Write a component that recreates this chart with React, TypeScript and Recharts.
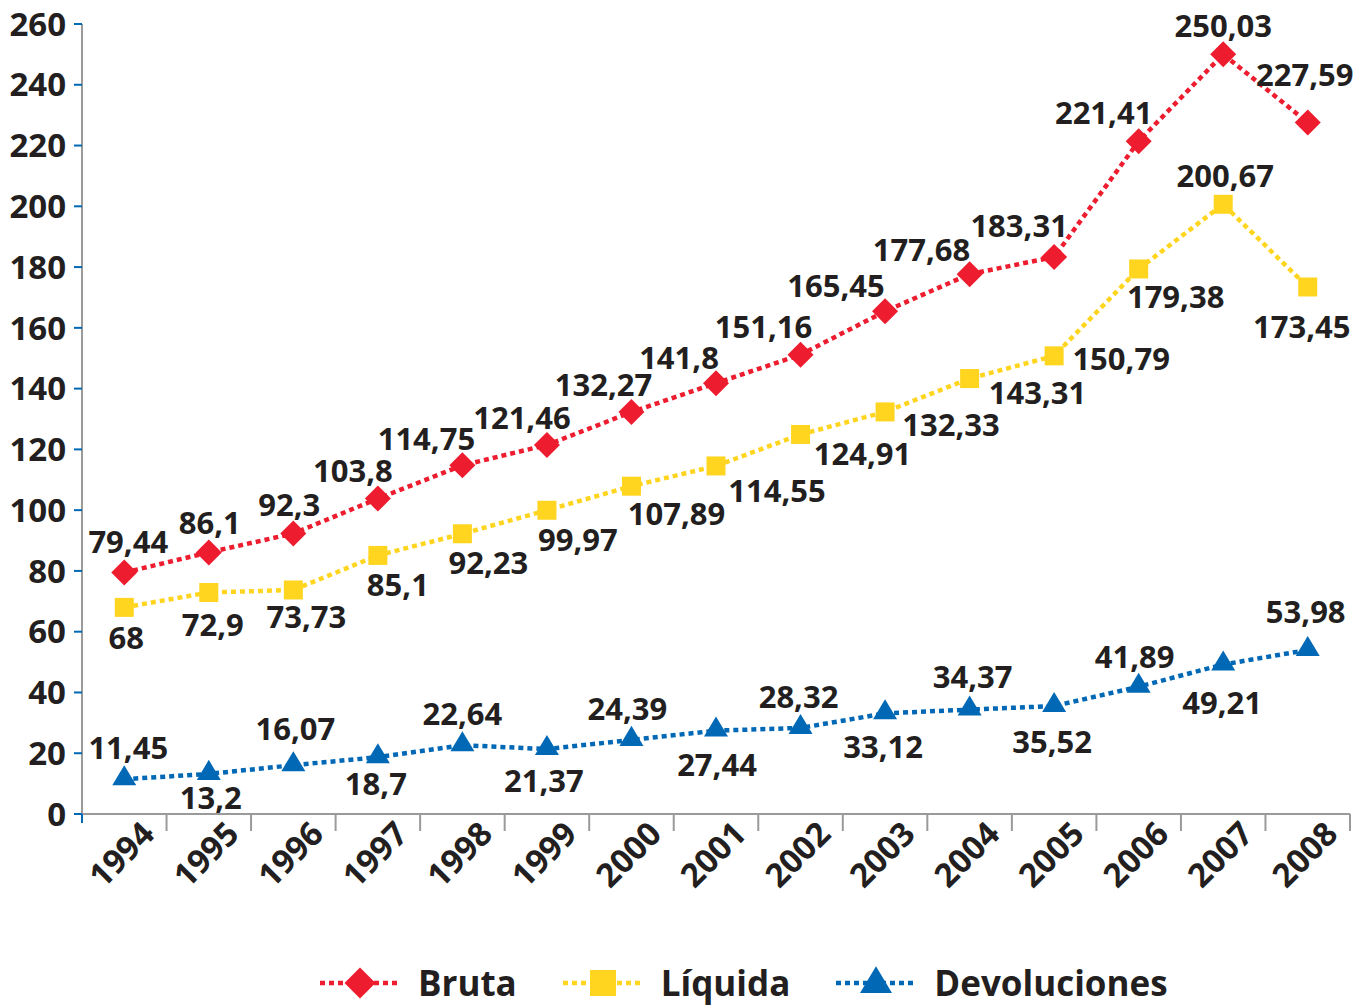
import React from "react";
import {
  LineChart,
  Line,
  XAxis,
  YAxis,
  Legend,
  LabelList,
} from "recharts";

const years = [
  "1994", "1995", "1996", "1997", "1998", "1999", "2000", "2001",
  "2002", "2003", "2004", "2005", "2006", "2007", "2008",
];
const bruta = [
  79.44, 86.1, 92.3, 103.8, 114.75, 121.46, 132.27, 141.8, 151.16, 165.45,
  177.68, 183.31, 221.41, 250.03, 227.59,
];
const liquida = [
  68, 72.9, 73.73, 85.1, 92.23, 99.97, 107.89, 114.55, 124.91, 132.33,
  143.31, 150.79, 179.38, 200.67, 173.45,
];
const devoluciones = [
  11.45, 13.2, 16.07, 18.7, 22.64, 21.37, 24.39, 27.44, 28.32, 33.12, 34.37,
  35.52, 41.89, 49.21, 53.98,
];
const yTicks = [0, 20, 40, 60, 80, 100, 120, 140, 160, 180, 200, 220, 240, 260];

// label placement (dx, dy) relative to each point
const brutaLabelPos = [
  [4, -32], [1, -30], [-4, -30], [-25, -29], [-36, -27], [-25, -28], [-28, -28],
  [-37, -26], [-37, -29], [-49, -26], [-48, -25], [-35, -32], [-35, -29],
  [0, -29], [-3, -48],
];
const liquidaLabelPos = [
  [2, 30], [4, 32], [13, 26], [20, 29], [26, 28], [31, 29], [45, 27], [61, 24],
  [62, 19], [66, 12], [68, 13], [67, 2], [37, 27], [2, -29], [-6, 39],
];
const devolucionesLabelPos = [
  [4, -32], [2, 23], [2, -37], [-2, 26], [0, -32], [-3, 31], [-4, -32],
  [1, 33], [-2, -32], [-2, 33], [3, -34], [-2, 35], [-4, -31], [-1, 38],
  [-2, -39],
];

const RED = "#ED1C2E";
const YELLOW = "#FFD520";
const BLUE = "#0068B5";
const INK = "#231F20";
const FONT = "'Open Sans', 'Noto Sans', sans-serif";

const data = years.map((year, i) => ({
  idx: i,
  year,
  bruta: bruta[i],
  liquida: liquida[i],
  devoluciones: devoluciones[i],
}));

const xTicks = Array.from({ length: years.length * 2 + 1 }, (_, i) => i / 2 - 0.5);

const fmt = (v: number) => String(v).replace(".", ",");

const Diamond = ({ cx, cy, r = 13 }: any) => (
  <path
    d={`M${cx},${cy - r} L${cx + r},${cy} L${cx},${cy + r} L${cx - r},${cy} Z`}
    fill={RED}
  />
);
const Square = ({ cx, cy, r = 9.5 }: any) => (
  <rect x={cx - r} y={cy - r} width={2 * r} height={2 * r} fill={YELLOW} />
);
const Triangle = ({ cx, cy, r = 12 }: any) => (
  <path
    d={`M${cx},${cy - r * 1.17} L${cx + r},${cy + r * 0.5} L${cx - r},${cy + r * 0.5} Z`}
    fill={BLUE}
  />
);

const makeLabel = (pos: number[][]) => (props: any) => {
  const { x, y, value, index } = props;
  const [dx, dy] = pos[index] || [0, -30];
  return (
    <text
      x={x + dx}
      y={y + dy}
      textAnchor="middle"
      dominantBaseline="central"
      fill={INK}
      fontSize={31}
      fontWeight={700}
      fontFamily={FONT}
    >
      {fmt(value)}
    </text>
  );
};

const XTick = (props: any) => {
  const { x, y, payload } = props;
  const v = payload.value;
  if (Number.isInteger(v)) {
    return (
      <text
        x={x + 32}
        y={y + 22}
        textAnchor="end"
        transform={`rotate(-45, ${x + 32}, ${y + 22})`}
        fill={INK}
        fontSize={33}
        fontWeight={700}
        fontFamily={FONT}
      >
        {years[v]}
      </text>
    );
  }
  if (v === -0.5) {
    return <line x1={x} y1={y} x2={x} y2={y + 9} stroke={BLUE} strokeWidth={2} />;
  }
  return <line x1={x} y1={y} x2={x} y2={y + 17} stroke="#9a9a9a" strokeWidth={2} />;
};

const legendItems = [
  { name: "Bruta", color: RED, marker: <Diamond cx={40} cy={22} r={15.5} /> },
  { name: "Líquida", color: YELLOW, marker: <Square cx={40} cy={22} r={13} /> },
  { name: "Devoluciones", color: BLUE, marker: <Triangle cx={40} cy={24} r={16} /> },
];

const LegendContent = () => (
  <div
    style={{
      display: "flex",
      alignItems: "flex-end",
      paddingLeft: 320,
      paddingBottom: 2,
      height: 60,
      boxSizing: "border-box",
      fontFamily: FONT,
    }}
  >
    {legendItems.map((it) => (
      <div key={it.name} style={{ display: "flex", alignItems: "center", marginRight: 46 }}>
        <svg width={80} height={44} style={{ display: "block" }}>
          <line
            x1={0}
            y1={22}
            x2={80}
            y2={22}
            stroke={it.color}
            strokeWidth={4.5}
            strokeDasharray="5 4"
          />
          {it.marker}
        </svg>
        <span
          style={{
            marginLeft: 18,
            fontSize: 35,
            fontWeight: 700,
            color: INK,
            lineHeight: "44px",
          }}
        >
          {it.name}
        </span>
      </div>
    ))}
  </div>
);

const App = () => {
  return (
    <div style={{ position: "absolute", left: 0, top: 0, background: "#fff" }}>
      <LineChart
        width={1365}
        height={1007}
        data={data}
        margin={{ top: 24, right: 15, left: 0, bottom: 0 }}
      >
        <XAxis
          dataKey="idx"
          type="number"
          domain={[-0.5, years.length - 0.5]}
          ticks={xTicks}
          interval={0}
          tick={<XTick />}
          tickLine={false}
          tickSize={0}
          tickMargin={0}
          height={133}
          axisLine={{ stroke: "#9a9a9a", strokeWidth: 2 }}
        />
        <YAxis
          domain={[0, 260]}
          ticks={yTicks}
          interval={0}
          width={82}
          tickSize={8}
          tickMargin={8}
          tick={{ fill: INK, fontSize: 33, fontWeight: 700, fontFamily: FONT }}
          tickLine={{ stroke: BLUE, strokeWidth: 2 }}
          axisLine={{ stroke: "#9a9a9a", strokeWidth: 2 }}
        />
        <Legend verticalAlign="bottom" content={() => <LegendContent />} />
        <Line
          type="linear"
          dataKey="bruta"
          name="Bruta"
          stroke={RED}
          strokeWidth={4.5}
          strokeDasharray="5 4"
          dot={(p: any) => <Diamond key={`b${p.index}`} cx={p.cx} cy={p.cy} />}
          activeDot={false}
          isAnimationActive={false}
        >
          <LabelList dataKey="bruta" content={makeLabel(brutaLabelPos)} />
        </Line>
        <Line
          type="linear"
          dataKey="liquida"
          name="Líquida"
          stroke={YELLOW}
          strokeWidth={4.5}
          strokeDasharray="5 4"
          dot={(p: any) => <Square key={`l${p.index}`} cx={p.cx} cy={p.cy} />}
          activeDot={false}
          isAnimationActive={false}
        >
          <LabelList dataKey="liquida" content={makeLabel(liquidaLabelPos)} />
        </Line>
        <Line
          type="linear"
          dataKey="devoluciones"
          name="Devoluciones"
          stroke={BLUE}
          strokeWidth={4.5}
          strokeDasharray="5 4"
          dot={(p: any) => <Triangle key={`d${p.index}`} cx={p.cx} cy={p.cy} />}
          activeDot={false}
          isAnimationActive={false}
        >
          <LabelList dataKey="devoluciones" content={makeLabel(devolucionesLabelPos)} />
        </Line>
      </LineChart>
    </div>
  );
};

export default App;
